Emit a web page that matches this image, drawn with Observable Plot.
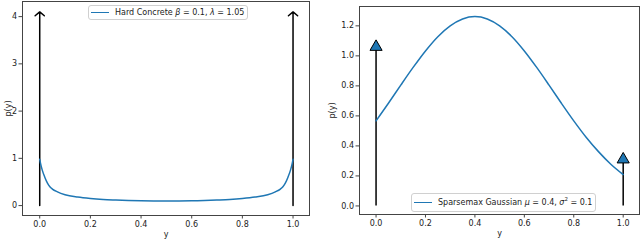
<!DOCTYPE html>
<html>
<head>
<meta charset="utf-8">
<script src="https://cdn.jsdelivr.net/npm/d3@7"></script>
<script src="https://cdn.jsdelivr.net/npm/@observablehq/plot@0.6"></script>
<style>
  body { margin: 0; background: white; }
  #wrap { position: relative; width: 640px; height: 240px; display: flex; font-family: "DejaVu Sans", sans-serif; }
  .legend { position: absolute; display: flex; align-items: center; box-sizing: border-box;
    border: 1px solid #d0d0d0; border-radius: 3px; background: rgba(255,255,255,0.85);
    font-size: 8px; color: #222; white-space: nowrap; padding-right: 3px; }
  .legend .sw { flex: none; width: 18px; height: 0; border-top: 1.5px solid #1f77b4; margin-left: 2px; margin-right: 6px; }
  .legend i { font-family: "DejaVu Sans", sans-serif; font-style: italic; }
</style>
</head>
<body>
<div id="wrap">
  <div id="left"></div>
  <div id="right"></div>
  <div class="legend" style="left:88px; top:5px; height:15px;">
    <div class="sw"></div><span>Hard Concrete <i>β</i> = 0.1, <i>λ</i> = 1.05</span>
  </div>
  <div class="legend" style="left:411px; top:193px; height:19px;">
    <div class="sw"></div><span>Sparsemax Gaussian <i>μ</i> = 0.4, <i>σ</i><sup style="font-size:5.5px; line-height:0;">2</sup> = 0.1</span>
  </div>
</div>
<script>
// ---- data ----
const xTicks = [0, 0.2, 0.4, 0.6, 0.8, 1.0];
const leftYTicks = [0, 1, 2, 3, 4];
const rightYTicks = [0, 0.2, 0.4, 0.6, 0.8, 1.0, 1.2];

// Hard Concrete density
const hcX = [0, 0.005, 0.01, 0.02, 0.03, 0.04, 0.05, 0.07, 0.1, 0.15, 0.2, 0.25, 0.3, 0.35, 0.4, 0.45, 0.5,
             0.55, 0.6, 0.65, 0.7, 0.75, 0.8, 0.85, 0.9, 0.93, 0.95, 0.96, 0.97, 0.98, 0.99, 0.995, 1];
const hcY = [0.98, 0.85, 0.75, 0.60, 0.48, 0.40, 0.35, 0.29, 0.23, 0.18, 0.15, 0.13, 0.118, 0.108, 0.102, 0.098, 0.097,
             0.098, 0.102, 0.108, 0.118, 0.13, 0.15, 0.18, 0.23, 0.29, 0.35, 0.40, 0.48, 0.60, 0.75, 0.85, 0.98];
const hcArrowX = [0, 1];
const hcArrowTop = [4.1, 4.1];

// Sparsemax Gaussian density
const sgX = [0, 0.05, 0.1, 0.15, 0.2, 0.25, 0.3, 0.35, 0.4, 0.45, 0.5, 0.55, 0.6, 0.65, 0.7, 0.75, 0.8, 0.85, 0.9, 0.95, 1];
const sgY = [0.567, 0.684, 0.805, 0.923, 1.033, 1.128, 1.200, 1.246, 1.262, 1.246, 1.200, 1.128, 1.033, 0.923, 0.805, 0.684, 0.567, 0.458, 0.362, 0.278, 0.209];
const sgMassX = [0, 1];
const sgMassTop = [1.06, 0.31];

// ---- build ----
const blue = "#1f77b4";
const frameColor = "#444";
const style = { fontFamily: "DejaVu Sans, sans-serif", fontSize: "8px", background: "white", color: "#222" };

const hc = hcX.map((x, i) => ({ x, y: hcY[i] }));
const hcArrows = hcArrowX.map((x, i) => ({ x, top: hcArrowTop[i] }));
const sg = sgX.map((x, i) => ({ x, y: sgY[i] }));
const sgMass = sgMassX.map((x, i) => ({ x, top: sgMassTop[i] }));

const left = Plot.plot({
  width: 320, height: 240,
  marginLeft: 22, marginRight: 11, marginTop: 1, marginBottom: 25,
  style,
  x: { domain: [-0.068, 1.065] },
  y: { domain: [-0.21, 4.32] },
  marks: [
    Plot.frame({ stroke: frameColor }),
    Plot.axisX({ ticks: xTicks, tickFormat: d3.format(".1f"), tickSize: 3.5, tickPadding: 2.5, stroke: frameColor,
                 label: "y", labelAnchor: "center", labelOffset: 21, labelArrow: "none" }),
    Plot.axisY({ ticks: leftYTicks, tickFormat: d3.format("d"), tickSize: 3.5, tickPadding: 2, stroke: frameColor,
                 label: "p(y)", labelAnchor: "center", labelOffset: 17, labelArrow: "none" }),
    Plot.arrow(hcArrows, { x1: "x", y1: () => 0, x2: "x", y2: "top", stroke: "black", strokeWidth: 1.5,
                           headLength: 6, headAngle: 100 }),
    Plot.line(hc, { x: "x", y: "y", stroke: blue, strokeWidth: 1.5, curve: "monotone-x" })
  ]
});

const right = Plot.plot({
  width: 320, height: 240,
  marginLeft: 39, marginRight: 1, marginTop: 6, marginBottom: 26,
  style,
  x: { domain: [-0.067, 1.066] },
  y: { domain: [-0.057, 1.329] },
  marks: [
    Plot.frame({ stroke: frameColor }),
    Plot.axisX({ ticks: xTicks, tickFormat: d3.format(".1f"), tickSize: 3.5, tickPadding: 2.5, stroke: frameColor,
                 label: "y", labelAnchor: "center", labelOffset: 21, labelArrow: "none" }),
    Plot.axisY({ ticks: rightYTicks, tickFormat: d3.format(".1f"), tickSize: 3.5, tickPadding: 2, stroke: frameColor,
                 label: "p(y)", labelAnchor: "center", labelOffset: 30, labelArrow: "none" }),
    Plot.ruleX(sgMass, { x: "x", y1: () => 0, y2: "top", stroke: "black", strokeWidth: 1.5 }),
    Plot.line(sg, { x: "x", y: "y", stroke: blue, strokeWidth: 1.5, curve: "monotone-x" }),
    Plot.dot(sgMass, { x: "x", y: "top", symbol: "triangle", r: 4.5, fill: blue, stroke: "black", strokeWidth: 1 })
  ]
});

document.getElementById("left").appendChild(left);
document.getElementById("right").appendChild(right);
</script>
</body>
</html>
